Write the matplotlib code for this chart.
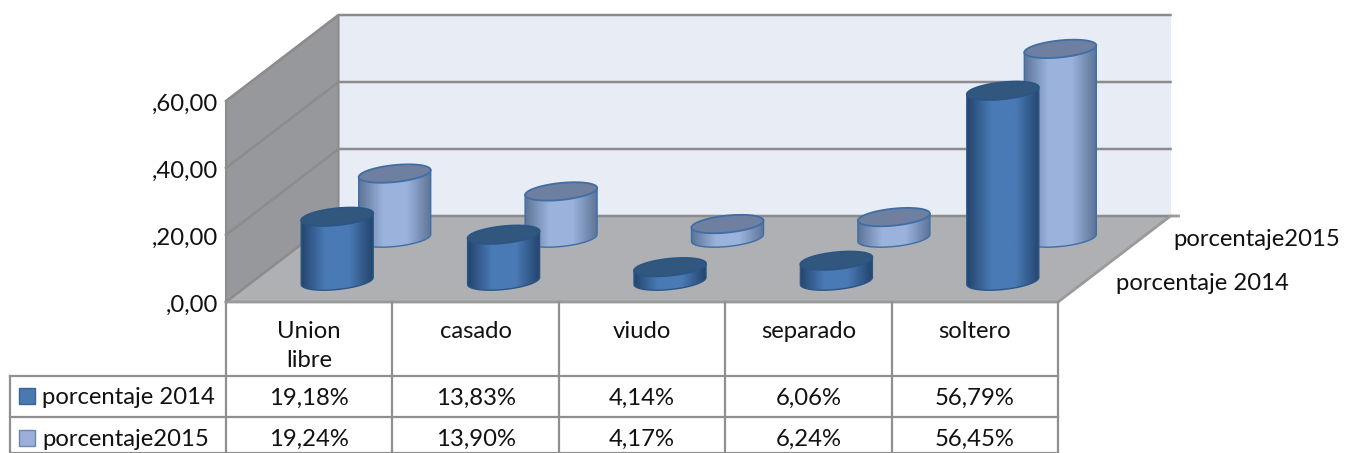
import numpy as np
import matplotlib
matplotlib.use('Agg')
import matplotlib.pyplot as plt
from matplotlib.colors import LinearSegmentedColormap
from matplotlib.patches import Polygon, Rectangle

plt.rcParams['font.family'] = ['Lato', 'DejaVu Sans']

categories = ['Union\nlibre', 'casado', 'viudo', 'separado', 'soltero']
series_names = ['porcentaje 2014', 'porcentaje2015']
values_2014 = [19.18, 13.83, 4.14, 6.06, 56.79]
values_2015 = [19.24, 13.90, 4.17, 6.24, 56.45]
labels_2014 = ['19,18%', '13,83%', '4,14%', '6,06%', '56,79%']
labels_2015 = ['19,24%', '13,90%', '4,17%', '6,24%', '56,45%']
y_ticks = [0, 20, 40, 60]
y_labels = [',0,00', ',20,00', ',40,00', ',60,00']

W, H = 1347, 453
fig = plt.figure(figsize=(W / 100, H / 100), dpi=100)
ax = fig.add_axes([0, 0, 1, 1])
ax.set_xlim(0, W)
ax.set_ylim(H, 0)
ax.axis('off')

# projection of the box: front floor corner, depth offset, pixels per unit
x0, y0 = 226, 302
dx, dy = 112.5, -86
cat_w = (1058 - 226) / 5
unit = 67 / 20
ymax = 60

grid_col = '#8c8c8c'
wall_col = '#e8edf5'
side_col = '#97989b'
floor_col = '#aeb0b4'
fs = 17.2
txt_col = '#111111'


def shade(rgb_dark, rgb_light):
    return LinearSegmentedColormap.from_list('c', [rgb_dark, rgb_light, rgb_light, rgb_dark])


# walls and floor
xb = x0 + dx
yb = y0 + dy
xr = x0 + 5 * cat_w
top = ymax * unit
ax.add_patch(Rectangle((xb, yb - top), 5 * cat_w, top, fc=wall_col, ec='none', zorder=1))
ax.add_patch(Polygon([(x0, y0), (xb, yb), (xb, yb - top), (x0, y0 - top)], fc=side_col, ec=grid_col, lw=1.5, zorder=1))
ax.add_patch(Polygon([(x0, y0), (xb, yb), (xb + 5 * cat_w, yb), (xr, y0)], fc=floor_col, ec='none', zorder=1))
for t in y_ticks:
    h = t * unit
    ax.plot([x0, xb, xb + 5 * cat_w], [y0 - h, yb - h, yb - h], color=grid_col, lw=1.8, zorder=2)
    ax.text(x0 - 8, y0 - h + 3, y_labels[y_ticks.index(t)], ha='right', va='center', fontsize=fs, color=txt_col)
ax.plot([x0, xr, xb + 5 * cat_w, xb + 5 * cat_w + 8], [y0, y0, yb, yb], color='#9a9a9a', lw=2, zorder=2)


def cylinder(cx, base_y, val, dark, light, edge, top_col, z):
    a, b, s = 36, 8.5, 3.5
    h = val * unit
    t = np.linspace(0, np.pi, 60)
    # lower arc of base, going left to right
    bx = cx - a * np.cos(t)
    by = base_y + b * np.sin(t) + s * np.cos(t)
    # full top ellipse
    tt = np.linspace(0, 2 * np.pi, 120)
    ex = cx + a * np.cos(tt)
    ey = base_y - h + b * np.sin(tt) - s * np.cos(tt)
    body = np.column_stack([np.r_[bx, cx + a, cx - a], np.r_[by, base_y - h - s, base_y - h + s]])
    patch = Polygon(body, closed=True, fc='none', ec=edge, lw=1.0, zorder=z + 1)
    ax.add_patch(patch)
    grad = np.linspace(0, 1, 80).reshape(1, -1)
    im = ax.imshow(grad, cmap=shade(dark, light), extent=(cx - a, cx + a, by.max() + 1, base_y - h - 12),
                   aspect='auto', zorder=z)
    im.set_clip_path(patch)
    ax.add_patch(Polygon(np.column_stack([ex, ey]), closed=True, fc=top_col, ec=edge, lw=1.3, zorder=z + 2))


# back series first so the front series covers it
for i, v in enumerate(values_2015):
    cylinder(x0 + (i + 0.5) * cat_w + 85.5, 238, v, '#5f7599', '#9bb3dc', '#3f6ea6', '#6e7f9f', 5)
for i, v in enumerate(values_2014):
    cylinder(x0 + (i + 0.5) * cat_w + 28, 281, v, '#24466f', '#4a7ab5', '#2a5585', '#32577f', 10)

# depth axis labels
ax.text(1173, 240, series_names[1], ha='left', va='center', fontsize=fs, color=txt_col)
ax.text(1116, 284, series_names[0], ha='left', va='center', fontsize=fs, color=txt_col)

# data table
row_y = [302, 376, 417, 453]
col_x = [x0 + i * cat_w for i in range(6)]
tab_col = '#8f8f8f'
for x in col_x:
    ax.plot([x, x], [row_y[0], row_y[3]], color=tab_col, lw=1.6, zorder=3)
ax.plot([10, 10], [row_y[1], row_y[3]], color=tab_col, lw=1.6, zorder=3)
for y in row_y[1:]:
    ax.plot([10, col_x[-1]], [y, y], color=tab_col, lw=1.6, zorder=3)

for i, c in enumerate(categories):
    cx = (col_x[i] + col_x[i + 1]) / 2
    ax.text(cx, 332 if i else 346, c, ha='center', va='center', fontsize=fs, color=txt_col, linespacing=1.5)
    ax.text(cx, 398, labels_2014[i], ha='center', va='center', fontsize=fs, color=txt_col)
    ax.text(cx, 439, labels_2015[i], ha='center', va='center', fontsize=fs, color=txt_col)

ax.add_patch(Rectangle((19, 388), 16, 16, fc='#4a78b0', ec='#3a6494', lw=1, zorder=4))
ax.add_patch(Rectangle((19, 430), 16, 16, fc='#9bb0d8', ec='#6c85b0', lw=1, zorder=4))
ax.text(42, 398, series_names[0], ha='left', va='center', fontsize=fs, color=txt_col)
ax.text(42, 439, series_names[1], ha='left', va='center', fontsize=fs, color=txt_col)

ax.set_xlim(0, W)
ax.set_ylim(H, 0)
fig.savefig('out.png', dpi=100)
